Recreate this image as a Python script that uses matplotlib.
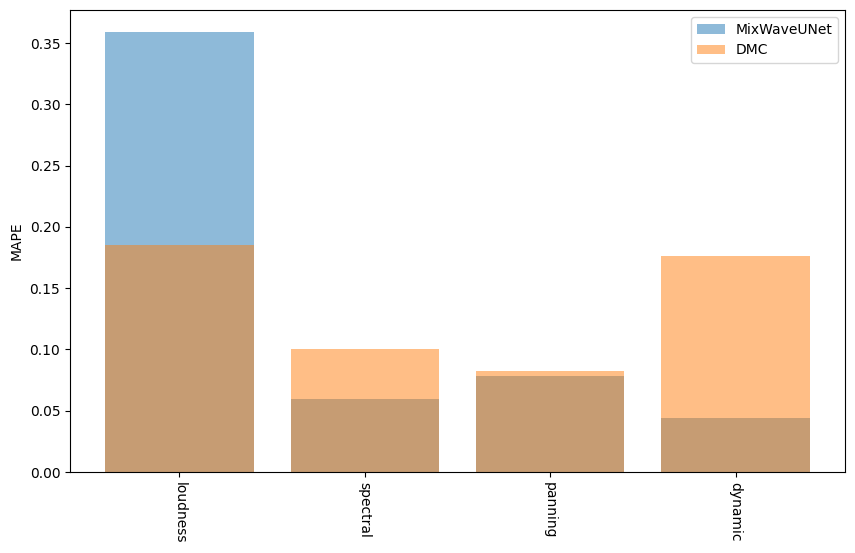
import matplotlib
matplotlib.use('Agg')
import matplotlib.pyplot as plt

# Data
categories = ['loudness', 'spectral', 'panning', 'dynamic']
mixwaveunet = [0.359, 0.0595, 0.0783, 0.044]
dmc = [0.185, 0.1003, 0.0824, 0.176]

fig = plt.figure(figsize=(8.55, 5.53), dpi=100)
ax = fig.add_axes([70 / 855, 81 / 553, 775 / 855, 462 / 553])

ax.bar(categories, mixwaveunet, alpha=0.5, label='MixWaveUNet')
ax.bar(categories, dmc, alpha=0.5, label='DMC')

ax.set_ylabel('MAPE')
ax.tick_params(axis='x', labelrotation=-90)
ax.legend()

plt.savefig('out.png', dpi=100)
